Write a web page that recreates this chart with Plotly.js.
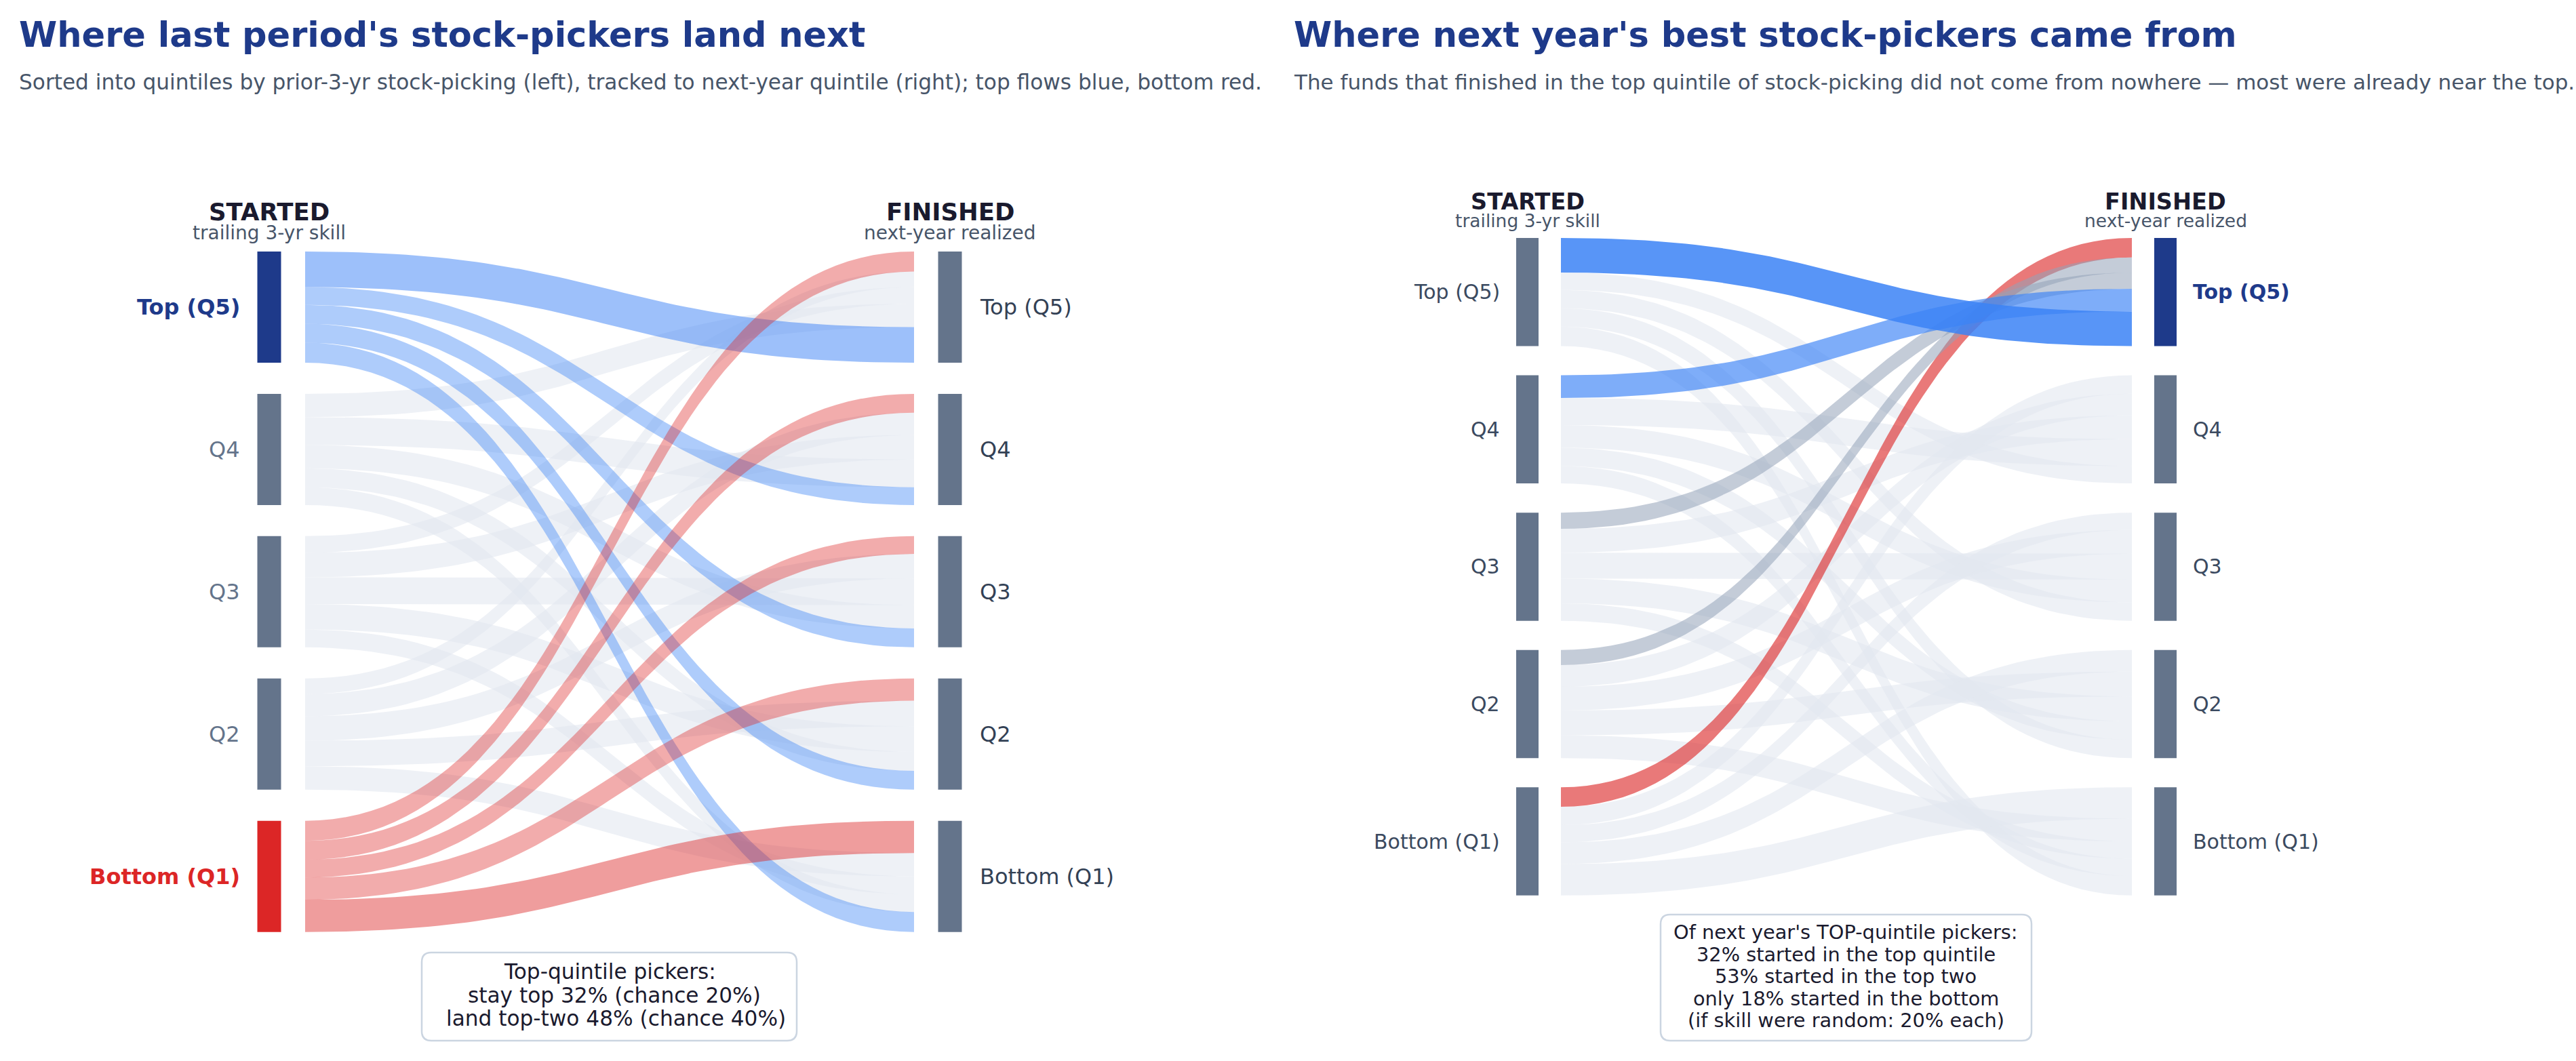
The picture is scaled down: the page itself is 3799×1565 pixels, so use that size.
<!DOCTYPE html>
<html>
<head>
<meta charset="utf-8">
<script src="https://cdn.plot.ly/plotly-3.0.1.min.js"></script>
<style>html,body{margin:0;padding:0;background:#ffffff;}</style>
</head>
<body>
<div id="chart" style="width:3799px;height:1565px;"></div>
<script>
// ---------------- DATA ----------------
const quintiles = ["Top (Q5)", "Q4", "Q3", "Q2", "Bottom (Q1)"];
// share of each starting quintile landing in next-year quintile (columns: Q5, Q4, Q3, Q2, Q1)
const fromQ5 = [0.32, 0.16, 0.17, 0.17, 0.18];
const fromQ4 = [0.21, 0.25, 0.21, 0.17, 0.16];
const fromQ3 = [0.15, 0.22, 0.24, 0.23, 0.16];
const fromQ2 = [0.14, 0.20, 0.22, 0.23, 0.21];
const fromQ1 = [0.18, 0.17, 0.16, 0.20, 0.29];
const transitions = [fromQ5, fromQ4, fromQ3, fromQ2, fromQ1];

const leftTitle = "Where last period's stock-pickers land next";
const leftSubtitle = "Sorted into quintiles by prior-3-yr stock-picking (left), tracked to next-year quintile (right); top flows blue, bottom red.";
const rightTitle = "Where next year's best stock-pickers came from";
const rightSubtitle = "The funds that finished in the top quintile of stock-picking did not come from nowhere \u2014 most were already near the top.";
const leftNote = ["Top-quintile pickers:", "stay top 32% (chance 20%)", "land top-two 48% (chance 40%)"];
const rightNote = ["Of next year's TOP-quintile pickers:", "32% started in the top quintile", "53% started in the top two", "only 18% started in the bottom", "(if skill were random: 20% each)"];

// ---------------- LAYOUT CONSTANTS ----------------
const W = 3799, H = 1565;
const FONT = "DejaVu Sans, Verdana, sans-serif";
const BLUE = "59,130,246", RED = "220,38,38", SLATE = "148,163,184";
const GRAY_FLOW = "rgba(226,232,240,0.6)";
const NODE_GRAY = "#64748b", NAVY = "#1e3a8a", NODE_RED = "#dc2626";

const panels = [
  { xa: "x", ya: "y", xaxisKey: "xaxis", yaxisKey: "yaxis", dom: [0, 0.5],
    p0: 450, p1: 1348, top: 371, unit: 164, gap: 0.28, nodeW: 35, nodeGap: 35.5,
    labelSize: 32, headSize: 35.5, subHeadSize: 28, headOff: 58, subHeadOff: 28,
    labelShift: 24,
    linkStyle: (i, j) => {
      if (i === 0) return { z: 1, color: `rgba(${BLUE},${j === 0 ? 0.5 : 0.41})` };
      if (i === 4) return { z: 2, color: `rgba(${RED},${j === 4 ? 0.45 : 0.38})` };
      return { z: 0, color: GRAY_FLOW };
    },
    srcNode: i => (i === 0 ? NAVY : i === 4 ? NODE_RED : NODE_GRAY),
    dstNode: j => NODE_GRAY,
    srcLabel: i => (i === 0 ? { bold: true, color: NAVY } : i === 4 ? { bold: true, color: NODE_RED } : { bold: false, color: "#64748b" }),
    dstLabel: j => ({ bold: false, color: "#334155" })
  },
  { xa: "x2", ya: "y2", xaxisKey: "xaxis2", yaxisKey: "yaxis2", dom: [0.5, 1],
    p0: 2302, p1: 3144, top: 351, unit: 159.5, gap: 0.27, nodeW: 33, nodeGap: 33,
    labelSize: 30, headSize: 33.5, subHeadSize: 26.5, headOff: 54, subHeadOff: 26,
    labelShift: 22,
    linkStyle: (i, j) => {
      if (j !== 0) return { z: 0, color: GRAY_FLOW };
      if (i === 0) return { z: 4, color: `rgba(${BLUE},0.85)` };
      if (i === 1) return { z: 3, color: `rgba(${BLUE},0.66)` };
      if (i === 4) return { z: 1, color: `rgba(${RED},0.62)` };
      return { z: 2, color: `rgba(${SLATE},0.55)` };
    },
    srcNode: i => NODE_GRAY,
    dstNode: j => (j === 0 ? NAVY : NODE_GRAY),
    srcLabel: i => ({ bold: false, color: "#3b4a60" }),
    dstLabel: j => (j === 0 ? { bold: true, color: NAVY } : { bold: false, color: "#3b4a60" })
  }
];

const traces = [];
const annotations = [];
const shapes = [];
const layoutAxes = {};

function sum(a) { return a.reduce((s, v) => s + v, 0); }

panels.forEach(P => {
  const n = transitions.length;
  const rowTot = transitions.map(sum);
  const colTot = transitions[0].map((_, j) => sum(transitions.map(r => r[j])));
  const scale = P.p1 - P.p0;

  // axes mapping: x 0 -> link start, 1 -> link end; y 0 -> top node edge, units = quintile share
  const d0 = P.dom[0] * W, d1 = P.dom[1] * W;
  layoutAxes[P.xaxisKey] = { domain: P.dom, range: [(d0 - P.p0) / scale, (d1 - P.p0) / scale],
    visible: false, fixedrange: true, anchor: P.ya };
  layoutAxes[P.yaxisKey] = { domain: [0, 1], range: [(H - P.top) / P.unit, -P.top / P.unit],
    visible: false, fixedrange: true, anchor: P.xa };

  const srcTop = [], dstTop = [];
  let acc = 0;
  rowTot.forEach(t => { srcTop.push(acc); acc += t + P.gap; });
  acc = 0;
  colTot.forEach(t => { dstTop.push(acc); acc += t + P.gap; });

  // source offsets ordered by destination (Q5 first)
  const srcOff = transitions.map((r, i) => { let o = srcTop[i]; return r.map(v => { const a = o; o += v; return a; }); });
  // destination offsets ordered by source from bottom quintile to top quintile
  const dstOff = transitions.map(r => r.map(() => 0));
  for (let j = 0; j < n; j++) {
    let o = dstTop[j];
    for (let i = n - 1; i >= 0; i--) { dstOff[i][j] = o; o += transitions[i][j]; }
  }

  const links = [];
  transitions.forEach((r, i) => r.forEach((v, j) => links.push({ i, j, v, style: P.linkStyle(i, j) })));
  links.sort((a, b) => a.style.z - b.style.z);

  const N = 64;
  links.forEach(L => {
    const ys0 = srcOff[L.i][L.j], yd0 = dstOff[L.i][L.j];
    const xs = [], ys = [];
    for (let k = 0; k <= N; k++) {
      const u = k / N;
      xs.push(1.5 * u * (1 - u) + u * u * u);
      ys.push(ys0 + (yd0 - ys0) * (3 * u * u - 2 * u * u * u));
    }
    for (let k = N; k >= 0; k--) {
      const u = k / N;
      xs.push(1.5 * u * (1 - u) + u * u * u);
      ys.push(ys0 + L.v + (yd0 - ys0) * (3 * u * u - 2 * u * u * u));
    }
    traces.push({ type: "scatter", mode: "lines", x: xs, y: ys, xaxis: P.xa, yaxis: P.ya,
      fill: "toself", fillcolor: L.style.color, line: { width: 0 }, hoverinfo: "skip", showlegend: false });
  });

  // nodes
  const sx0 = -(P.nodeGap + P.nodeW) / scale, sx1 = -P.nodeGap / scale;
  const fx0 = 1 + P.nodeGap / scale, fx1 = 1 + (P.nodeGap + P.nodeW) / scale;
  const rect = (x0, x1, y0, y1, c) => traces.push({ type: "scatter", mode: "lines",
    x: [x0, x1, x1, x0, x0], y: [y0, y0, y1, y1, y0], xaxis: P.xa, yaxis: P.ya,
    fill: "toself", fillcolor: c, line: { width: 0 }, hoverinfo: "skip", showlegend: false });
  for (let i = 0; i < n; i++) rect(sx0, sx1, srcTop[i], srcTop[i] + rowTot[i], P.srcNode(i));
  for (let j = 0; j < n; j++) rect(fx0, fx1, dstTop[j], dstTop[j] + colTot[j], P.dstNode(j));

  // node labels
  quintiles.forEach((q, i) => {
    const s = P.srcLabel(i);
    annotations.push({ xref: P.xa, yref: P.ya, x: sx0, y: srcTop[i] + rowTot[i] / 2,
      xanchor: "right", yanchor: "middle", xshift: -P.labelShift, showarrow: false,
      text: s.bold ? `<b>${q}</b>` : q, font: { family: FONT, size: P.labelSize, color: s.color } });
    const d = P.dstLabel(i);
    annotations.push({ xref: P.xa, yref: P.ya, x: fx1, y: dstTop[i] + colTot[i] / 2,
      xanchor: "left", yanchor: "middle", xshift: P.labelShift, showarrow: false,
      text: d.bold ? `<b>${q}</b>` : q, font: { family: FONT, size: P.labelSize, color: d.color } });
  });

  // column headers
  const heads = [[(sx0 + sx1) / 2, "STARTED", "trailing 3-yr skill"], [(fx0 + fx1) / 2, "FINISHED", "next-year realized"]];
  heads.forEach(h => {
    annotations.push({ xref: P.xa, yref: "paper", x: h[0], y: 1 - (P.top - P.headOff) / H,
      xanchor: "center", yanchor: "middle", showarrow: false, text: `<b>${h[1]}</b>`,
      font: { family: FONT, size: P.headSize, color: "#1a1a2e" } });
    annotations.push({ xref: P.xa, yref: "paper", x: h[0], y: 1 - (P.top - P.subHeadOff) / H,
      xanchor: "center", yanchor: "middle", showarrow: false, text: h[2],
      font: { family: FONT, size: P.subHeadSize, color: "#475569" } });
  });
});

// titles
function paperText(px, pyCenter, text, size, color, anchor) {
  annotations.push({ xref: "paper", yref: "paper", x: px / W, y: 1 - pyCenter / H,
    xanchor: anchor || "left", yanchor: "middle", showarrow: false, text,
    font: { family: FONT, size, color } });
}
paperText(26, 52, `<b>${leftTitle}</b>`, 51, NAVY);
paperText(26, 121, leftSubtitle, 31.2, "#475569");
paperText(1906, 52, `<b>${rightTitle}</b>`, 51, NAVY);
paperText(1906, 121, rightSubtitle, 31, "#475569");

// note boxes
function roundedBox(x0, y0, x1, y1, r) {
  const X = p => (p / W).toFixed(6), Y = p => (1 - p / H).toFixed(6);
  return `M${X(x0 + r)},${Y(y0)} L${X(x1 - r)},${Y(y0)} Q${X(x1)},${Y(y0)} ${X(x1)},${Y(y0 + r)} ` +
    `L${X(x1)},${Y(y1 - r)} Q${X(x1)},${Y(y1)} ${X(x1 - r)},${Y(y1)} L${X(x0 + r)},${Y(y1)} ` +
    `Q${X(x0)},${Y(y1)} ${X(x0)},${Y(y1 - r)} L${X(x0)},${Y(y0 + r)} Q${X(x0)},${Y(y0)} ${X(x0 + r)},${Y(y0)} Z`;
}
shapes.push({ type: "path", xref: "paper", yref: "paper", path: roundedBox(622, 1405, 1175, 1535, 14),
  line: { color: "#cbd5e1", width: 2.5 }, fillcolor: "#ffffff", layer: "above" });
shapes.push({ type: "path", xref: "paper", yref: "paper", path: roundedBox(2449, 1349, 2996, 1535, 14),
  line: { color: "#cbd5e1", width: 2.5 }, fillcolor: "#ffffff", layer: "above" });

const leftNoteCenters = [899, 906, 908];
leftNote.forEach((t, k) => paperText(leftNoteCenters[k], 1433 + k * 34.5, t, 31.2, "#1a1a2e", "center"));
rightNote.forEach((t, k) => paperText(2722, 1375 + k * 32.5, t, 28.8, "#1a1a2e", "center"));

const layout = Object.assign({
  width: W, height: H, autosize: false,
  margin: { l: 0, r: 0, t: 0, b: 0, pad: 0 },
  paper_bgcolor: "#ffffff", plot_bgcolor: "rgba(0,0,0,0)",
  showlegend: false, hovermode: false,
  annotations, shapes
}, layoutAxes);

Plotly.newPlot("chart", traces, layout, { staticPlot: true, displayModeBar: false });
</script>
</body>
</html>
